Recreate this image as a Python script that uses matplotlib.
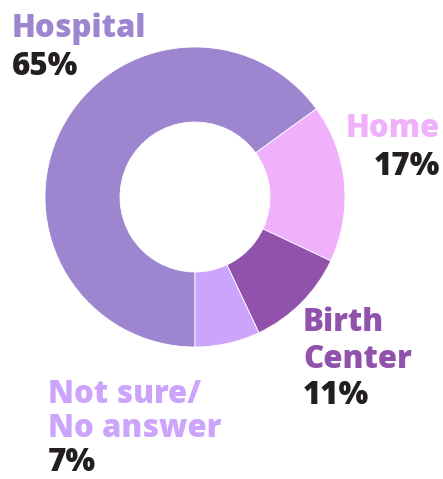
import matplotlib
matplotlib.use('Agg')
import matplotlib.pyplot as plt

# Datos
categorias = ['Hospital', 'Home', 'Birth Center', 'Not sure/\nNo answer']
valores = [65, 17, 11, 7]
colores = ['#9e85cf', '#f0b0fc', '#9052ab', '#cca4fc']
color_pct = '#231f20'

W, H = 443, 479
fig = plt.figure(figsize=(W / 100, H / 100), dpi=100)

# Donut: centro (195, 197) px, radio 150 px
ax = fig.add_axes([45 / W, (H - 347) / H, 300 / W, 300 / H])
ax.pie(valores, colors=colores, startangle=-90, counterclock=False,
       radius=1, wedgeprops=dict(width=0.5, edgecolor='white', linewidth=0.6))
ax.set_xlim(-1, 1)
ax.set_ylim(-1, 1)
ax.set_aspect('equal')
ax.axis('off')

fuente = dict(family=['Open Sans', 'DejaVu Sans'], weight=800, fontsize=22.5)

def texto(x, y, s, color, ha='left'):
    fig.text(x / W, 1 - y / H, s, color=color, ha=ha, va='baseline', **fuente)

# Etiquetas (líneas y porcentajes)
texto(12, 37, 'Hospital', colores[0])
texto(12, 75, f'{valores[0]}%', color_pct)

texto(440, 137, 'Home', colores[1], ha='right')
texto(440, 175, f'{valores[1]}%', color_pct, ha='right')

lineas_bc = categorias[2].split(' ')
texto(303, 331, lineas_bc[0], colores[2])
texto(303, 368, lineas_bc[1], colores[2])
texto(303, 404, f'{valores[2]}%', color_pct)

lineas_ns = categorias[3].split('\n')
texto(48, 403, lineas_ns[0], colores[3])
texto(48, 437, lineas_ns[1], colores[3])
texto(48, 471, f'{valores[3]}%', color_pct)

fig.savefig('out.png', dpi=100)
